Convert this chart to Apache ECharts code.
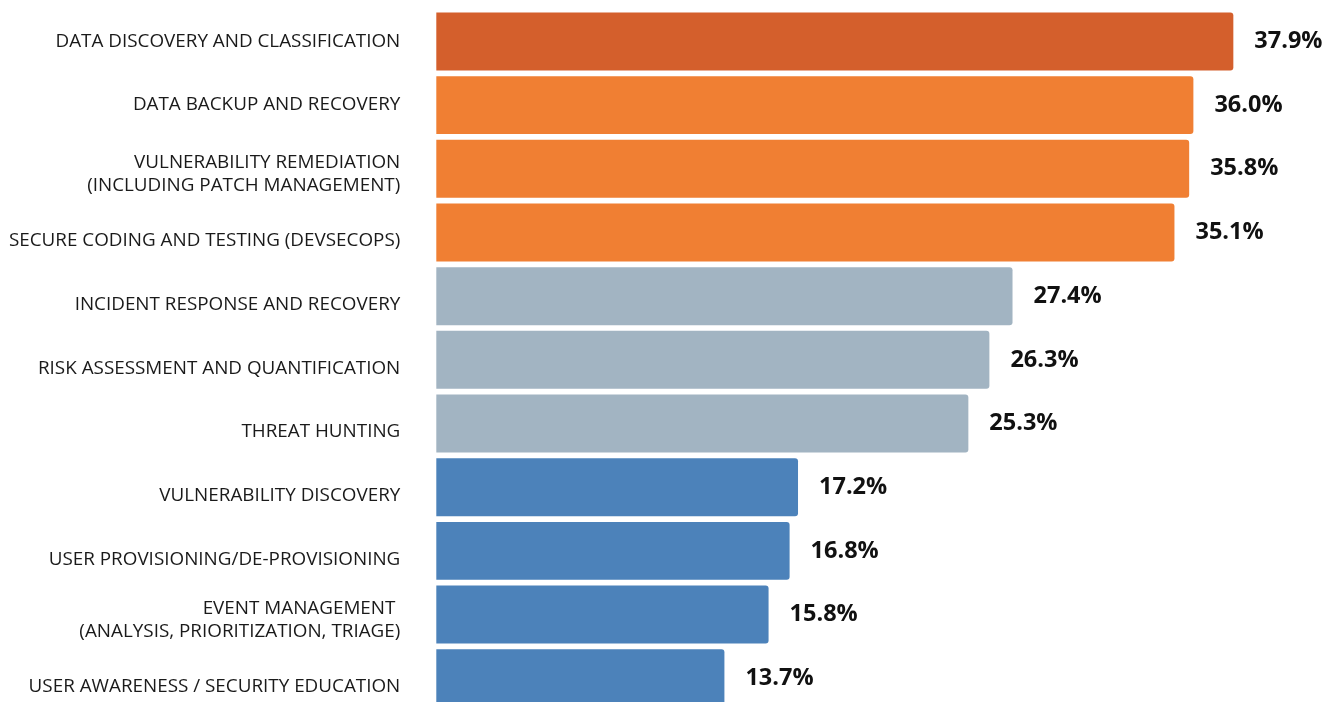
<!DOCTYPE html>
<html>
<head>
<meta charset="utf-8">
<script src="https://cdn.jsdelivr.net/npm/echarts@6/dist/echarts.min.js"></script>
<style>
html,body{margin:0;padding:0;background:#fff;}
#c{width:1338px;height:702px;}
</style>
</head>
<body>
<div id="c"></div>
<script>
const categories = [
  'DATA DISCOVERY AND CLASSIFICATION',
  'DATA BACKUP AND RECOVERY',
  'VULNERABILITY REMEDIATION\n(INCLUDING PATCH MANAGEMENT)',
  'SECURE CODING AND TESTING (DEVSECOPS)',
  'INCIDENT RESPONSE AND RECOVERY',
  'RISK ASSESSMENT AND QUANTIFICATION',
  'THREAT HUNTING',
  'VULNERABILITY DISCOVERY',
  'USER PROVISIONING/DE-PROVISIONING',
  'EVENT MANAGEMENT \n(ANALYSIS, PRIORITIZATION, TRIAGE)',
  'USER AWARENESS / SECURITY EDUCATION'
];
const values = [37.9, 36.0, 35.8, 35.1, 27.4, 26.3, 25.3, 17.2, 16.8, 15.8, 13.7];
const tiers = ['top', 'high', 'high', 'high', 'mid', 'mid', 'mid', 'low', 'low', 'low', 'low'];

const tierColors = { top: '#D45F2C', high: '#F07F33', mid: '#A2B4C2', low: '#4C82BA' };

const chart = echarts.init(document.getElementById('c'), null, { renderer: 'canvas' });
const labelFont = { fontSize: 18.85, color: '#1a1a1a', fontFamily: '"Open Sans", sans-serif', lineHeight: 23 };
chart.setOption({
  backgroundColor: '#ffffff',
  animation: false,
  textStyle: { fontFamily: '"Open Sans", sans-serif' },
  grid: { left: 436.3, top: 9.6, width: 841.2, height: 700.5, containLabel: false, outerBoundsMode: 'none' },
  xAxis: {
    type: 'value', min: 0, max: 40, show: false
  },
  yAxis: {
    type: 'category', inverse: true,
    data: categories,
    axisLine: { show: false }, axisTick: { show: false }, splitLine: { show: false },
    axisLabel: {
      margin: 36, color: '#1a1a1a', fontSize: 18.85, lineHeight: 23,
      fontFamily: '"Open Sans", sans-serif', align: 'right',
      formatter: (v, i) => {
        const lines = v.split('\n');
        const st = i < 2 ? 'a' : (lines.length > 1 ? 'b' : 'c');
        return lines.map(l => '{' + st + '|' + l + '}').join('\n');
      },
      rich: {
        a: Object.assign({}, labelFont),
        b: Object.assign({ padding: [11, 0, 0, 0] }, labelFont),
        c: Object.assign({ padding: [17, 0, 0, 0] }, labelFont)
      }
    }
  },
  series: [{
    type: 'bar',
    data: values.map((v, i) => ({ value: v, itemStyle: { color: tierColors[tiers[i]] } })),
    barCategoryGap: '9%',
    itemStyle: { borderRadius: [0, 3, 3, 0] },
    label: {
      show: true, position: 'right', distance: 21,
      formatter: p => p.value.toFixed(1) + '%',
      color: '#111', fontSize: 23.5, fontWeight: 'bold',
      fontFamily: '"Open Sans", sans-serif'
    }
  }]
});
</script>
</body>
</html>
